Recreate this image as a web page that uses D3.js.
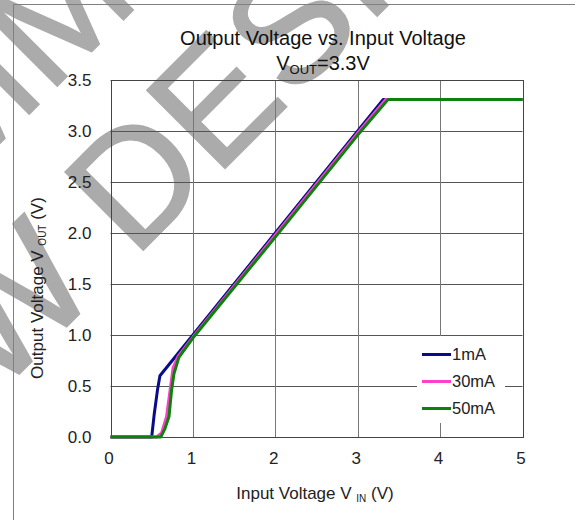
<!DOCTYPE html>
<html>
<head>
<meta charset="utf-8">
<script src="https://cdn.jsdelivr.net/npm/d3@7"></script>
<style>
  body { margin: 0; background: #fff; }
  svg { display: block; font-family: "Liberation Sans", Arial, sans-serif; }
</style>
</head>
<body>
<svg id="chart" width="575" height="520"></svg>
<script>
// data
var series = ["1mA", "30mA", "50mA"];
var colors = ["#0a0a8a", "#ff40c8", "#0b820b"];
var vin1  = [0, 0.5, 0.53, 0.57, 0.6, 1, 2, 3, 3.31, 5];
var vout1 = [0, 0, 0.22, 0.46, 0.6, 1.0, 2.0, 3.0, 3.31, 3.31];
var vin30  = [0, 0.56, 0.62, 0.68, 0.73, 0.76, 0.82, 1, 2, 3, 3.34, 5];
var vout30 = [0, 0, 0.04, 0.2, 0.5, 0.68, 0.79, 0.98, 1.98, 2.98, 3.31, 3.31];
var vin50  = [0, 0.61, 0.66, 0.71, 0.74, 0.77, 0.83, 1, 2, 3, 3.37, 5];
var vout50 = [0, 0, 0.08, 0.2, 0.45, 0.62, 0.78, 0.97, 1.96, 2.96, 3.31, 3.31];
var xTicks = [0, 1, 2, 3, 4, 5];
var yTicks = [0, 0.5, 1.0, 1.5, 2.0, 2.5, 3.0, 3.5];

var svg = d3.select("#chart");

// watermark, underneath everything
var wm = svg.append("g").attr("fill", "#ababab")
  .attr("stroke", "#ababab").attr("stroke-width", 2).style("font-size", "160px");
var l1 = wm.append("g").attr("transform", "translate(48,95) rotate(-45)");
l1.append("text").attr("text-anchor", "end").text("NOT RECOM");
l1.append("text").text("MENDED FOR");
var l2 = wm.append("g").attr("transform", "translate(134,259) rotate(-45)");
l2.append("text").attr("text-anchor", "end").attr("x", -44.5).text("NEW");
l2.append("text").text("DESIGN");

// outer frame
svg.append("path").attr("d", "M575,4.5H13.5V520").attr("fill", "none").attr("stroke", "#808080");

var x = d3.scaleLinear().domain([0, 5]).range([110.5, 522.5]);
var y = d3.scaleLinear().domain([0, 3.5]).range([437, 80]);

// grid
svg.append("g").selectAll("line").data(yTicks).join("line")
  .attr("x1", x(0)).attr("x2", x(5))
  .attr("y1", d => Math.round(y(d)) + 0.5).attr("y2", d => Math.round(y(d)) + 0.5)
  .attr("stroke", "#555");
svg.append("g").selectAll("line").data(xTicks).join("line")
  .attr("x1", d => Math.round(x(d)) + 0.5).attr("x2", d => Math.round(x(d)) + 0.5)
  .attr("y1", y(0)).attr("y2", y(3.5))
  .attr("stroke", "#777");
svg.append("rect")
  .attr("x", Math.round(x(0)) + 0.5).attr("y", Math.round(y(3.5)) + 0.5)
  .attr("width", Math.round(x(5)) - Math.round(x(0))).attr("height", Math.round(y(0)) - Math.round(y(3.5)))
  .attr("fill", "none").attr("stroke", "#444");

// axes (labels only)
var xAxis = svg.append("g").attr("transform", "translate(0," + y(0) + ")")
  .call(d3.axisBottom(x).tickValues(xTicks).tickSize(0).tickPadding(15).tickFormat(d3.format("d")));
var yAxis = svg.append("g").attr("transform", "translate(" + x(0) + ",0)")
  .call(d3.axisLeft(y).tickValues(yTicks).tickSize(0).tickPadding(19).tickFormat(d3.format(".1f")));
[xAxis, yAxis].forEach(function(a) {
  a.select(".domain").remove();
  a.selectAll("text").attr("font-family", "Liberation Sans, Arial, sans-serif")
    .style("font-size", "17px").attr("fill", "#222");
});
xAxis.selectAll("text").attr("dx", -2);

// curves
var line = d3.line().x(d => x(d[0])).y(d => y(d[1]));
var curves = [d3.zip(vin1, vout1), d3.zip(vin30, vout30), d3.zip(vin50, vout50)];
svg.append("g").selectAll("path").data(curves).join("path")
  .attr("d", line)
  .attr("fill", "none")
  .attr("stroke", (d, i) => colors[i])
  .attr("stroke-width", 3)
  .attr("stroke-linejoin", "round");

// legend
var leg = svg.append("g");
leg.append("rect").attr("x", 417).attr("y", 336).attr("width", 88).attr("height", 87).attr("fill", "#fff");
series.forEach(function(s, i) {
  var ly = 354.5 + i * 27;
  leg.append("line").attr("x1", 422).attr("x2", 451).attr("y1", ly).attr("y2", ly)
    .attr("stroke", colors[i]).attr("stroke-width", 3);
  leg.append("text").attr("x", 452).attr("y", ly).attr("dy", "0.35em")
    .style("font-size", "16.5px").attr("fill", "#222").text(s);
});

// titles
var t = svg.append("text").attr("x", 323).attr("y", 45).attr("text-anchor", "middle")
  .style("font-size", "20px").attr("fill", "#111");
t.text("Output Voltage vs. Input Voltage");
var t2 = svg.append("text").attr("x", 323).attr("y", 70).attr("text-anchor", "middle")
  .style("font-size", "20px").attr("fill", "#111");
t2.append("tspan").text("V");
t2.append("tspan").attr("dy", 4).style("font-size", "13px").text("OUT");
t2.append("tspan").attr("dy", -4).text("=3.3V");

var xl = svg.append("text").attr("x", 315).attr("y", 499).attr("text-anchor", "middle")
  .style("font-size", "17px").attr("fill", "#222");
xl.append("tspan").text("Input Voltage V ");
xl.append("tspan").attr("dy", 3).style("font-size", "10px").text("IN");
xl.append("tspan").attr("dy", -3).text(" (V)");

var yl = svg.append("text").attr("transform", "translate(43,288) rotate(-90)").attr("text-anchor", "middle")
  .style("font-size", "17px").attr("fill", "#222");
yl.append("tspan").text("Output Voltage V ");
yl.append("tspan").attr("dy", 3).style("font-size", "10px").text("OUT");
yl.append("tspan").attr("dy", -3).text(" (V)");
</script>
</body>
</html>
